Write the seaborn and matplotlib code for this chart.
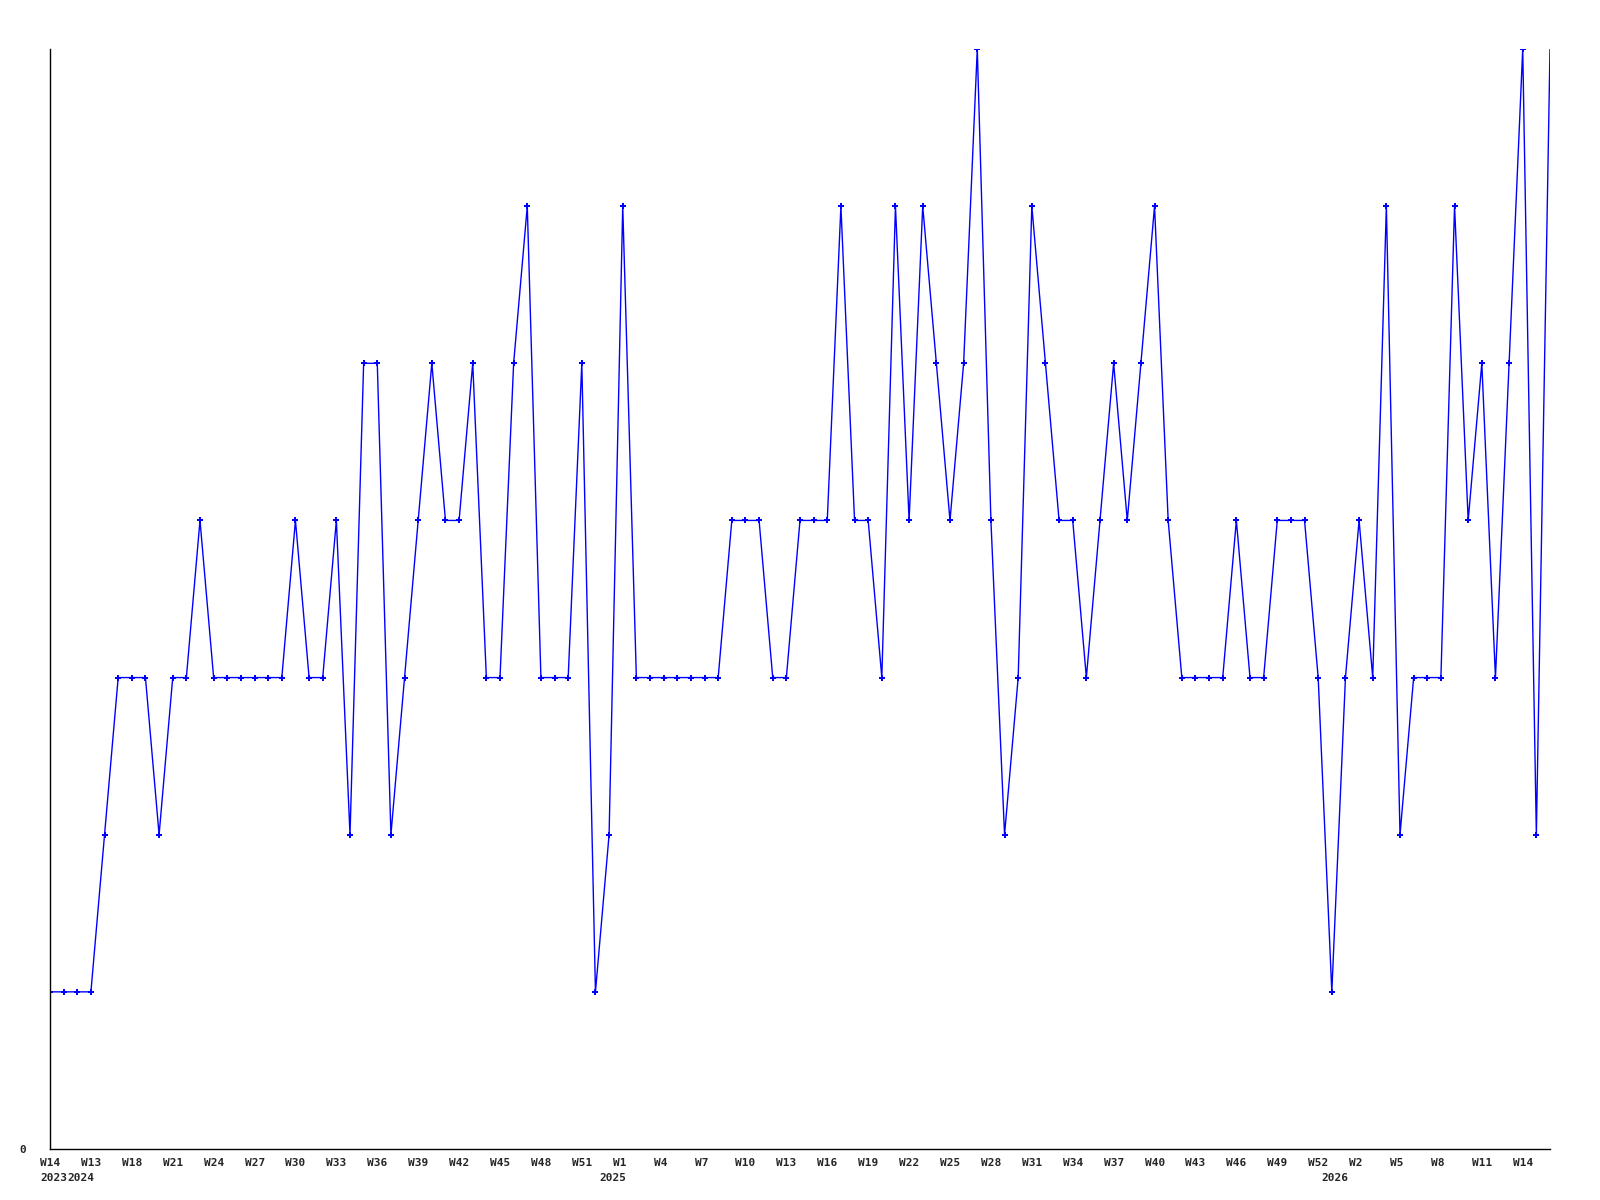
import numpy as np
import matplotlib
matplotlib.use("Agg")
import matplotlib.pyplot as plt
import matplotlib.transforms as mtransforms
import seaborn as sns
import pandas as pd

# weekly counts, one value per point along the x axis
counts = [
    1, 1, 1, 1, 2, 3, 3, 3, 2, 3, 3, 4, 3, 3, 3, 3, 3, 3, 4, 3,
    3, 4, 2, 5, 5, 2, 3, 4, 5, 4, 4, 5, 3, 3, 5, 6, 3, 3, 3, 5,
    1, 2, 6, 3, 3, 3, 3, 3, 3, 3, 4, 4, 4, 3, 3, 4, 4, 4, 6, 4,
    4, 3, 6, 4, 6, 5, 4, 5, 7, 4, 2, 3, 6, 5, 4, 4, 3, 4, 5, 4,
    5, 6, 4, 3, 3, 3, 3, 4, 3, 3, 4, 4, 4, 3, 1, 3, 4, 3, 6, 2,
    3, 3, 3, 6, 4, 5, 3, 5, 7, 2, 7,
]

week_labels = [
    "W14", "W13", "W18", "W21", "W24", "W27", "W30", "W33", "W36", "W39",
    "W42", "W45", "W48", "W51", "W1", "W4", "W7", "W10", "W13", "W16",
    "W19", "W22", "W25", "W28", "W31", "W34", "W37", "W40", "W43", "W46",
    "W49", "W52", "W2", "W5", "W8", "W11", "W14",
]
week_ticks = list(range(0, 3 * len(week_labels), 3))

year_labels = ["2023", "2024", "2025", "2026"]
year_ticks = [0, 2, 41, 94]

data = pd.DataFrame({"idx": np.arange(len(counts)), "count": counts})

sns.set_style("white")
plt.rcParams["font.family"] = ["DejaVu Sans Mono"]
plt.rcParams["font.weight"] = "bold"

fig = plt.figure(figsize=(16, 12), dpi=100)
ax = fig.add_axes([50 / 1600, 51 / 1200, 1500 / 1600, 1100 / 1200])

sns.lineplot(
    x="idx",
    y="count",
    data=data,
    color="#0000ff",
    linewidth=1,
    marker="P",
    markersize=4,
    markeredgewidth=0,
    markevery=list(range(len(counts) - 1)),  # last point has no marker
    ax=ax,
)

ax.set_xlim(0, len(counts) - 1)
ax.set_ylim(0, max(counts))
ax.set_xlabel("")
ax.set_ylabel("")

ax.xaxis.remove_overlapping_locs = False
ax.set_yticks([0], ["0"])
ax.set_xticks(week_ticks, week_labels)
ax.set_xticks(year_ticks, year_labels, minor=True)

ax.tick_params(axis="y", length=0, pad=17, labelsize=8)
ax.tick_params(axis="x", which="major", length=0, pad=6.5, labelsize=8)
ax.tick_params(axis="x", which="minor", length=0, pad=17, labelsize=8)

# labels start a little left of their point
shift = mtransforms.ScaledTranslation(-10 / 100, 0, fig.dpi_scale_trans)
for lbl in ax.get_xticklabels() + ax.get_xticklabels(minor=True):
    lbl.set_horizontalalignment("left")
    lbl.set_transform(lbl.get_transform() + shift)

for side in ["top", "right"]:
    ax.spines[side].set_visible(False)
for side in ["left", "bottom"]:
    ax.spines[side].set_color("black")
    ax.spines[side].set_linewidth(1)

plt.savefig("out.png", dpi=100, facecolor="white")
